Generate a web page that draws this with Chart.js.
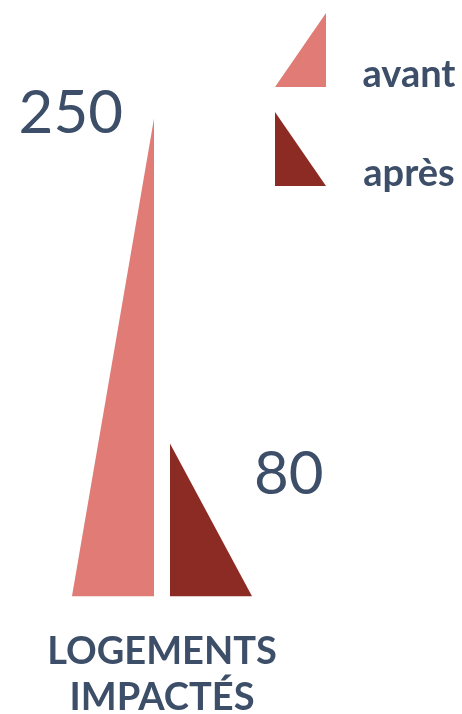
<!DOCTYPE html>
<html>
<head>
<meta charset="utf-8">
<script src="https://cdn.jsdelivr.net/npm/chart.js@4.4.0/dist/chart.umd.min.js"></script>
<style>
  html, body { margin: 0; padding: 0; background: #fff; }
  #wrap { position: relative; width: 462px; height: 714px; }
</style>
</head>
<body>
<div id="wrap"><canvas id="chart"></canvas></div>
<script>
// chart data
var categories = [['LOGEMENTS', 'IMPACTÉS']];
var seriesNames = ['avant', 'après'];
var avantValues = [250];
var apresValues = [80];
var seriesColors = ['#e07b76', '#8c2b23'];
var apexSides = ['right', 'left'];

var textColor = '#3d4e69';

/**
 * draws each bar as a right triangle, the apex sits on the bar's
 * left or right edge at the value height
 */
var triangleBars = {
    id : 'triangleBars',
    beforeDatasetDraw : function(chart, args) {
        var ds = chart.data.datasets[args.index];
        var ctx = chart.ctx;
        args.meta.data.forEach(function(bar) {
            var p = bar.getProps(['x', 'y', 'base', 'width'], true);
            var l = p.x - p.width / 2, r = p.x + p.width / 2;
            ctx.save();
            ctx.fillStyle = ds.backgroundColor;
            ctx.beginPath();
            if (ds.apex === 'right') {
                ctx.moveTo(l, p.base);
                ctx.lineTo(r, p.y);
                ctx.lineTo(r, p.base);
            } else {
                ctx.moveTo(l, p.y);
                ctx.lineTo(l, p.base);
                ctx.lineTo(r, p.base);
            }
            ctx.closePath();
            ctx.fill();
            ctx.restore();
        });
        return false; // skip the default rectangle
    }
};

// value next to each triangle
var valueLabels = {
    id : 'valueLabels',
    afterDatasetsDraw : function(chart, args, opts) {
        var ctx = chart.ctx;
        chart.data.datasets.forEach(function(ds, i) {
            var place = opts.places[i];
            chart.getDatasetMeta(i).data.forEach(function(bar, j) {
                var p = bar.getProps(['x', 'y', 'width'], true);
                ctx.save();
                ctx.font = opts.font;
                ctx.fillStyle = opts.color;
                ctx.textAlign = place.align;
                ctx.textBaseline = 'alphabetic';
                ctx.fillText(String(ds.data[j]), p.x + p.width / 2 + place.dx, p.y + place.dy);
                ctx.restore();
            });
        });
    }
};

// legend with triangle swatches, stacked top right
var triangleLegend = {
    id : 'triangleLegend',
    afterDraw : function(chart, args, opts) {
        var ctx = chart.ctx;
        chart.data.datasets.forEach(function(ds, i) {
            var top = opts.y + i * opts.step;
            var l = opts.x, r = opts.x + opts.w, b = top + opts.h;
            ctx.save();
            ctx.fillStyle = ds.backgroundColor;
            ctx.beginPath();
            if (ds.apex === 'right') {
                ctx.moveTo(l, b);
                ctx.lineTo(r, top);
                ctx.lineTo(r, b);
            } else {
                ctx.moveTo(l, top);
                ctx.lineTo(l, b);
                ctx.lineTo(r, b);
            }
            ctx.closePath();
            ctx.fill();
            ctx.font = opts.font;
            ctx.fillStyle = opts.color;
            ctx.textAlign = 'center';
            ctx.textBaseline = 'alphabetic';
            ctx.fillText(ds.label, opts.textX, b);
            ctx.restore();
        });
    }
};

var datasets = [avantValues, apresValues].map(function(values, i) {
    return {
        label : seriesNames[i],
        data : values,
        backgroundColor : seriesColors[i],
        apex : apexSides[i],
        barPercentage : 0.837,
        categoryPercentage : 0.605
    };
});

new Chart(document.getElementById('chart'), {
    type : 'bar',
    data : {
        labels : categories,
        datasets : datasets
    },
    options : {
        responsive : true,
        maintainAspectRatio : false,
        animation : false,
        layout : {
            // the two-line tick label reserves more room than it needs
            padding : { left : 0, right : 138, top : 0, bottom : -39 }
        },
        scales : {
            x : {
                grid : { display : false, drawTicks : false },
                border : { display : false },
                ticks : {
                    padding : 32,
                    color : textColor,
                    font : { family : 'Lato', weight : 'bold', size : 38, lineHeight : 1.22 }
                }
            },
            y : {
                display : false,
                min : 0,
                max : 312
            }
        },
        plugins : {
            legend : { display : false },
            tooltip : { enabled : false },
            valueLabels : {
                font : '60px Lato',
                color : textColor,
                places : [
                    { align : 'right', dx : -31, dy : 15 },
                    { align : 'left', dx : 2, dy : 51 }
                ]
            },
            triangleLegend : {
                x : 275, y : 13, w : 51, h : 74, step : 99,
                textX : 409,
                font : 'bold 38px Lato',
                color : textColor
            }
        }
    },
    plugins : [triangleBars, valueLabels, triangleLegend]
});
</script>
</body>
</html>
